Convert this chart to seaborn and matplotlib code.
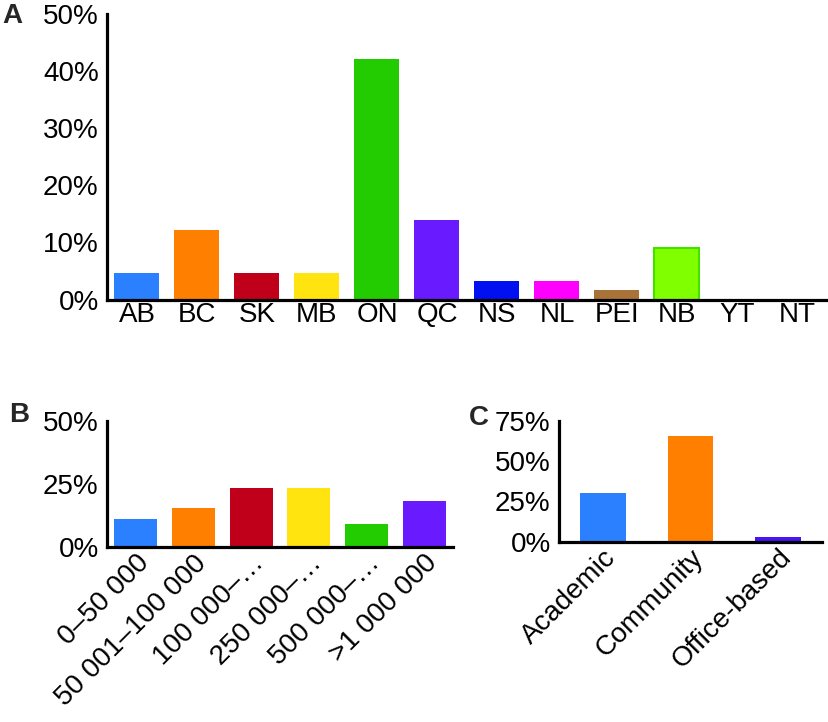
import matplotlib
matplotlib.use("Agg")
import matplotlib.pyplot as plt
from matplotlib.ticker import FixedLocator
import seaborn as sns
import pandas as pd
import numpy as np

sns.set_style("white")
plt.rcParams['font.family'] = ['Liberation Sans', 'DejaVu Sans']

# Panel A: province
prov_labels = ["AB", "BC", "SK", "MB", "ON", "QC", "NS", "NL", "PEI", "NB", "YT", "NT"]
prov_values = [4.7, 12.2, 4.7, 4.7, 42.1, 13.9, 3.2, 3.2, 1.7, 9.1, 0.0, 0.0]
prov_colors = ["#2A80FF", "#FF8000", "#C0001A", "#FFE40F", "#22CC00", "#6A1AFF",
               "#0010F0", "#FF00FF", "#A87238", "#80FF00", "#FFFFFF", "#FFFFFF"]

# Panel B: population size
pop_labels = ["0–50 000", "50 001–100 000", "100 000–…", "250 000–…", "500 000–…", ">1 000 000"]
pop_values = [11.3, 15.4, 23.3, 23.3, 9.3, 18.4]
pop_colors = ["#2A80FF", "#FF8000", "#C0001A", "#FFE40F", "#22CC00", "#6A1AFF"]

# Panel C: practice setting
set_labels = ["Academic", "Community", "Office-based"]
set_values = [30.4, 65.7, 2.8]
set_colors = ["#2A80FF", "#FF8000", "#4A12F5"]

W, H = 829, 722
fig = plt.figure(figsize=(W / 100, H / 100), dpi=100)

def px_axes(left, right, top, bottom):
    return fig.add_axes([left / W, 1 - bottom / H, (right - left) / W, (bottom - top) / H])

FS = 20
LW = 2.3

def style(ax, labels, ymax, yticks, xtick_len, rot=0):
    ax.set_ylim(0, ymax)
    ax.set_xlim(-0.5, len(labels) - 0.5)
    ax.set_yticks(yticks)
    ax.set_yticklabels([f"{t}%" for t in yticks], fontsize=FS)
    ax.set_xticks(range(len(labels)))
    if rot:
        ax.set_xticklabels(labels, fontsize=FS, rotation=rot, ha="right",
                           rotation_mode="anchor")
    else:
        ax.set_xticklabels(labels, fontsize=FS)
    ax.xaxis.set_minor_locator(FixedLocator(np.arange(0.5, len(labels), 1.0)))
    for s in ["top", "right"]:
        ax.spines[s].set_visible(False)
    for s in ["left", "bottom"]:
        ax.spines[s].set_linewidth(LW)
        ax.spines[s].set_color("black")
    ax.tick_params(axis="y", direction="in", length=13, width=LW, pad=6, colors="black")
    ax.tick_params(axis="x", which="major", length=0, pad=2, colors="black")
    ax.tick_params(axis="x", which="minor", direction="in", length=xtick_len, width=LW, colors="black")
    ax.set_xlabel("")
    ax.set_ylabel("")

# Panel A
axA = px_axes(107, 827, 14, 299.5)
dfA = pd.DataFrame({"cat": prov_labels, "val": prov_values})
sns.barplot(data=dfA, x="cat", y="val", hue="cat", palette=prov_colors, legend=False,
            saturation=1, width=0.75, linewidth=0, ax=axA)
nb = axA.patches[prov_labels.index("NB")]
nb.set_edgecolor("#44E000")
nb.set_linewidth(1.5)
style(axA, prov_labels, 50, [0, 10, 20, 30, 40, 50], 5)

# Panel B
axB = px_axes(107, 453, 420.7, 547.3)
dfB = pd.DataFrame({"cat": pop_labels, "val": pop_values})
sns.barplot(data=dfB, x="cat", y="val", hue="cat", palette=pop_colors, legend=False,
            saturation=1, width=0.75, linewidth=0, ax=axB)
style(axB, pop_labels, 50, [0, 25, 50], 2, rot=45)

# Panel C
axC = px_axes(559, 822, 420.7, 541.7)
dfC = pd.DataFrame({"cat": set_labels, "val": set_values})
sns.barplot(data=dfC, x="cat", y="val", hue="cat", palette=set_colors, legend=False,
            saturation=1, width=0.52, linewidth=0, ax=axC)
style(axC, set_labels, 75, [0, 25, 50, 75], 2, rot=45)

# Panel letters
fig.text(2 / W, 1 - 16 / H, "A", fontsize=FS, fontweight="bold", va="center", ha="left")
fig.text(9 / W, 1 - 415 / H, "B", fontsize=FS, fontweight="bold", va="center", ha="left")
fig.text(469 / W, 1 - 418 / H, "C", fontsize=FS, fontweight="bold", va="center", ha="left")

fig.savefig("out.png", dpi=100)
